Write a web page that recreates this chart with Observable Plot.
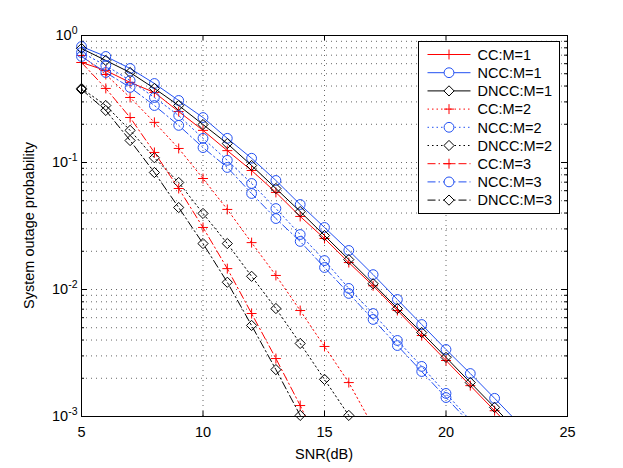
<!DOCTYPE html>
<html><head><meta charset="utf-8">
<script src="https://cdn.jsdelivr.net/npm/d3@7"></script>
<script src="https://cdn.jsdelivr.net/npm/@observablehq/plot@0.6"></script>
<style>
body{margin:0;background:#fff;}
#wrap{width:623px;height:468px;}
</style></head><body><div id="wrap"></div>
<script>
// ---- data ----
const snr = [5,6,7,8,9,10,11,12,13,14,15,16,17,18,19,20,21,22,23];
const ccM1   = [0.613,0.530,0.427,0.356,0.252,0.179,0.124,0.0865,0.0581,0.0376,0.0252,0.0163,0.0107,0.00683,0.00434,0.00276,0.00175,0.00111,0.000708];
const nccM1  = [0.819,0.684,0.550,0.419,0.308,0.226,0.155,0.108,0.0722,0.0467,0.0308,0.0203,0.0131,0.00834,0.00530,0.00337,0.00218,0.00139,0.000881];
const dnccM1 = [0.790,0.636,0.511,0.383,0.281,0.199,0.141,0.0947,0.0624,0.0411,0.0266,0.0172,0.0111,0.00708,0.00458,0.00292,0.00185,0.00118,0.000748];
const ccM2   = [0.696,0.493,0.325,0.207,0.129,0.0748,0.0427,0.0234,0.0129,0.00683,0.00356,0.00185,0.000834];
const nccM2  = [0.735,0.580,0.442,0.325,0.234,0.155,0.104,0.0684,0.0434,0.0271,0.0169,0.0102,0.00647,0.00397,0.00248,0.00152,0.000931];
const dnccM2 = [0.383,0.281,0.179,0.109,0.0696,0.0397,0.0230,0.0127,0.00708,0.00376,0.00196,0.00102];
const ccM3   = [0.613,0.383,0.226,0.120,0.0624,0.0308,0.0146,0.00647,0.00286,0.00122,0.000493];
const nccM3  = [0.684,0.511,0.390,0.281,0.196,0.131,0.0914,0.0570,0.0362,0.0239,0.0149,0.00931,0.00581,0.00362,0.00226,0.00141,0.000881];
const dnccM3 = [0.376,0.257,0.149,0.0834,0.0442,0.0230,0.0114,0.00521,0.00234,0.00102];

const seriesNames = ["CC:M=1","NCC:M=1","DNCC:M=1","CC:M=2","NCC:M=2","DNCC:M=2","CC:M=3","NCC:M=3","DNCC:M=3"];
const seriesValues = [ccM1,nccM1,dnccM1,ccM2,nccM2,dnccM2,ccM3,nccM3,dnccM3];

const xTicks = [5,10,15,20,25];
const yTicks = [0.001,0.01,0.1,1];
const yGrid = [0.001,0.002,0.003,0.004,0.005,0.006,0.007,0.008,0.009,
               0.01,0.02,0.03,0.04,0.05,0.06,0.07,0.08,0.09,
               0.1,0.2,0.3,0.4,0.5,0.6,0.7,0.8,0.9,1];

// ---- styles ----
const RED = "#ff0000", BLUE = "#2250f2", BLACK = "#000000";
const FS = 14.5;
const colorOf = n => n.startsWith("CC") ? RED : n.startsWith("NCC") ? BLUE : BLACK;
const symbolOf = n => n.startsWith("CC") ? "plus" : n.startsWith("NCC") ? "circle" : "diamond2";
const rOf = n => n.startsWith("CC") ? 3.3 : n.startsWith("NCC") ? 4.9 : 4.6;
const dashOf = n => n.endsWith("1") ? null : n.endsWith("2") ? "1.5,3" : "8,3,1.5,3";

const W = 623, H = 468, mL = 81, mR = 56, mT = 35, mB = 52;
const innerW = W - mL - mR, innerH = H - mT - mB;

const rows = seriesNames.map((name, i) =>
  seriesValues[i].map((p, j) => ({name, snr: snr[j], p})));

const marks = [
  Plot.ruleY(yGrid, {y: d => d, stroke: "#000", strokeOpacity: 0.6, strokeDasharray: "1,4"}),
  Plot.ruleX(xTicks.slice(1, -1), {x: d => d, stroke: "#000", strokeOpacity: 0.6, strokeDasharray: "1,4"}),
  // inner ticks
  Plot.ruleY(yTicks, {y: d => d, insetRight: innerW - 6, stroke: "#000"}),
  Plot.ruleY(yTicks, {y: d => d, insetLeft: innerW - 6, stroke: "#000"}),
  Plot.ruleY(yGrid, {y: d => d, insetRight: innerW - 3, stroke: "#000"}),
  Plot.ruleY(yGrid, {y: d => d, insetLeft: innerW - 3, stroke: "#000"}),
  Plot.ruleX(xTicks, {x: d => d, insetBottom: innerH - 5, stroke: "#000"}),
  Plot.ruleX(xTicks, {x: d => d, insetTop: innerH - 5, stroke: "#000"})
];
rows.forEach(data => {
  const n = data[0].name;
  marks.push(Plot.line(data, {x: "snr", y: "p", stroke: colorOf(n), strokeWidth: 1,
    strokeDasharray: dashOf(n), clip: true}));
  marks.push(Plot.dot(data.filter(d => d.p >= 0.001), {x: "snr", y: "p", symbol: symbolOf(n), r: rOf(n),
    stroke: colorOf(n), fill: "none", strokeWidth: 1}));
});
marks.push(Plot.frame({stroke: "#000"}));

const chart = Plot.plot({
  width: W, height: H,
  marginLeft: mL, marginRight: mR, marginTop: mT, marginBottom: mB,
  style: {fontFamily: "'Liberation Sans', Arial, sans-serif", fontSize: FS + "px", background: "#fff", color: "#000"},
  x: {type: "linear", domain: [5, 25], ticks: xTicks, tickSize: 0, tickPadding: 10, label: null},
  y: {type: "log", domain: [0.001, 1], ticks: yTicks, tickSize: 0, tickPadding: 4, label: null,
      tickFormat: d => "10^" + Math.round(Math.log10(d))},
  marks
});
document.getElementById("wrap").appendChild(chart);

const svg = d3.select(chart.tagName === "svg" ? chart : chart.querySelector("svg"));
// superscript tick labels
svg.selectAll("text").each(function() {
  const t = this.textContent;
  if (/^10\^/.test(t)) {
    const e = t.slice(3);
    const sel = d3.select(this);
    sel.text("10");
    sel.append("tspan").attr("dy", "-0.55em").attr("font-size", "10.5px").text(e);
  }
});
// axis titles
svg.append("text").attr("x", mL + innerW / 2).attr("y", 459).attr("text-anchor", "middle")
  .attr("font-size", FS).attr("fill", "#000").text("SNR(dB)");
svg.append("text").attr("transform", `translate(34,${mT + innerH / 2}) rotate(-90)`)
  .attr("text-anchor", "middle").attr("font-size", FS).attr("fill", "#000").text("System outage probability");

// legend
const lg = svg.append("g").attr("transform", "translate(418.5,41.5)");
lg.append("rect").attr("width", 141).attr("height", 172).attr("fill", "#fff").attr("stroke", "#000");
const symMap = {plus: d3.symbolPlus, circle: d3.symbolCircle, diamond2: d3.symbolDiamond2};
seriesNames.forEach((n, i) => {
  const cy = 13 + i * 18.2;
  lg.append("line").attr("x1", 9).attr("x2", 52).attr("y1", cy).attr("y2", cy)
    .attr("stroke", colorOf(n)).attr("stroke-width", 1).attr("stroke-dasharray", dashOf(n));
  const r = rOf(n);
  lg.append("path").attr("d", d3.symbol(symMap[symbolOf(n)], Math.PI * r * r)())
    .attr("transform", `translate(30.5,${cy})`).attr("fill", "#fff").attr("stroke", colorOf(n));
  lg.append("text").attr("x", 59).attr("y", cy).attr("dy", "0.36em").attr("font-size", FS)
    .attr("text-anchor", "start").attr("fill", "#000").text(n);
});
</script>
</body></html>
